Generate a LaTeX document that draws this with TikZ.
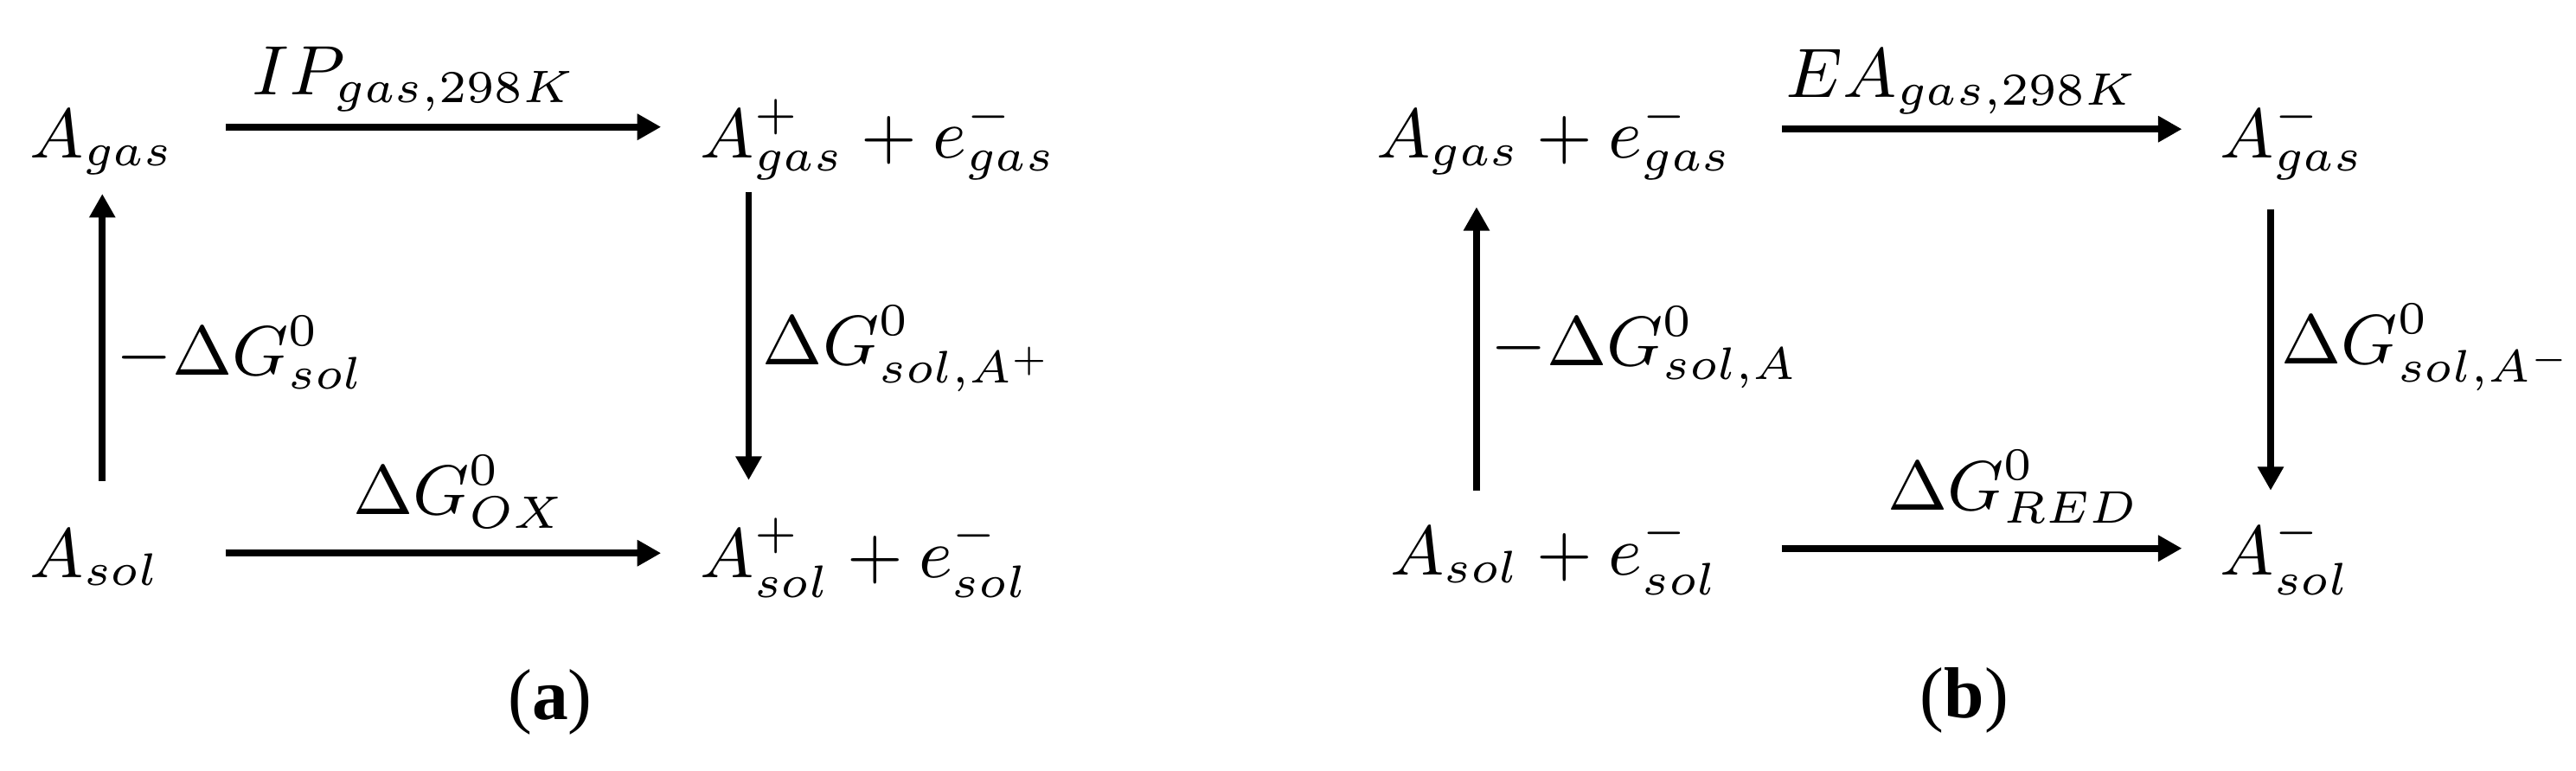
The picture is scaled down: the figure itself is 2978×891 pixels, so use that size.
\RequirePackage{fix-cm}
\documentclass[tikz,border=0pt]{standalone}
\usepackage{fontspec}
\newfontfamily\capfont{Liberation Serif}
\DeclareMathSizes{9.2}{9.2}{6}{4.5}
\usetikzlibrary{arrows.meta, positioning}

\begin{document}
\begin{tikzpicture}[
    x=0.04mm, y=-0.04mm,
    species/.style={inner sep=0pt, anchor=base west, font=\fontsize{9.2}{11}\selectfont},
    react/.style={line width=0.9pt, -{Triangle[length=1.1mm, width=1.15mm]}},
    tag/.style={inner sep=0pt, font=\fontsize{9.2}{11}\selectfont},
    caption/.style={inner sep=0pt, anchor=base, font=\capfont\fontsize{9.5}{11}\selectfont}
  ]
  \useasboundingbox (0,0) rectangle (2978,891);

  \node (agas)    [species] at (33,183)  {$A_{gas}$};
  \node (ionpair) [species] at (808,183) {$A^{+}_{gas}+e^{-}_{gas}$};
  \node (asol)    [species] at (33,668)  {$A_{sol}$};
  \node (ionsol)  [species] at (808,668) {$A^{+}_{sol}+e^{-}_{sol}$};

  \draw[react] ([xshift=2.3mm, yshift=1.45mm]agas.base east) -- ([xshift=-1.75mm, yshift=1.45mm]ionpair.base west)
    node[tag, midway, above=0.55mm, xshift=-1.35mm] {$IP_{gas{,}298K}$};
  \draw[react] ([xshift=2.3mm, yshift=1.15mm]agas.base east |- asol.base) -- ([xshift=-1.75mm, yshift=1.15mm]ionsol.base west)
    node[tag, midway, above=1mm, xshift=0.75mm] {$\Delta G^{0}_{OX}$};
  \draw[react, shorten <=2.2mm, shorten >=0.8mm] (agas.south |- asol.north) -- (agas.south)
    node[tag, midway, right=0.5mm] {$-\Delta G^{0}_{sol}$};
  \draw[react, shorten <=0.5mm, shorten >=1.7mm] ([xshift=2.3mm]ionpair.south west) -- ([xshift=2.3mm]ionsol.north west)
    node[tag, midway, right=0.5mm] {$\Delta G^{0}_{sol{,}A^{+}}$};

  \node (capa) [caption] at (636,832) {(\textbf{a})};

  \node (pairgas) [species, anchor=base] at (1797,183) {$A_{gas}+e^{-}_{gas}$};
  \node (anion)   [species] at (2565,183) {$A^{-}_{gas}$};
  \node (pairsol) [species, anchor=base] at (1797,665) {$A_{sol}+e^{-}_{sol}$};
  \node (anisol)  [species] at (2565,665) {$A^{-}_{sol}$};

  \draw[react] ([xshift=2.2mm, yshift=1.35mm]pairgas.base east) -- ([xshift=-1.7mm, yshift=1.35mm]anion.base west)
    node[tag, midway, above=0.55mm, xshift=-0.9mm] {$EA_{gas{,}298K}$};
  \draw[react] ([xshift=2.2mm, yshift=1.25mm]pairgas.base east |- pairsol.base) -- ([xshift=-1.7mm, yshift=1.25mm]anisol.base west)
    node[tag, midway, above=1mm, xshift=1.5mm] {$\Delta G^{0}_{RED}$};
  \draw[react, shorten <=1.1mm, shorten >=1.2mm] ([xshift=-3.6mm]pairgas.south |- pairsol.north) -- ([xshift=-3.6mm]pairgas.south)
    node[tag, midway, right=0.5mm] {$-\Delta G^{0}_{sol{,}A}$};
  \draw[react, shorten <=1.3mm, shorten >=1.1mm] ([xshift=2.4mm]anion.south west) -- ([xshift=2.4mm]anisol.north west)
    node[tag, midway, right=0.35mm] {$\Delta G^{0}_{sol{,}A^{-}}$};

  \node (capb) [caption] at (2271,830) {(\textbf{b})};
\end{tikzpicture}
\end{document}
